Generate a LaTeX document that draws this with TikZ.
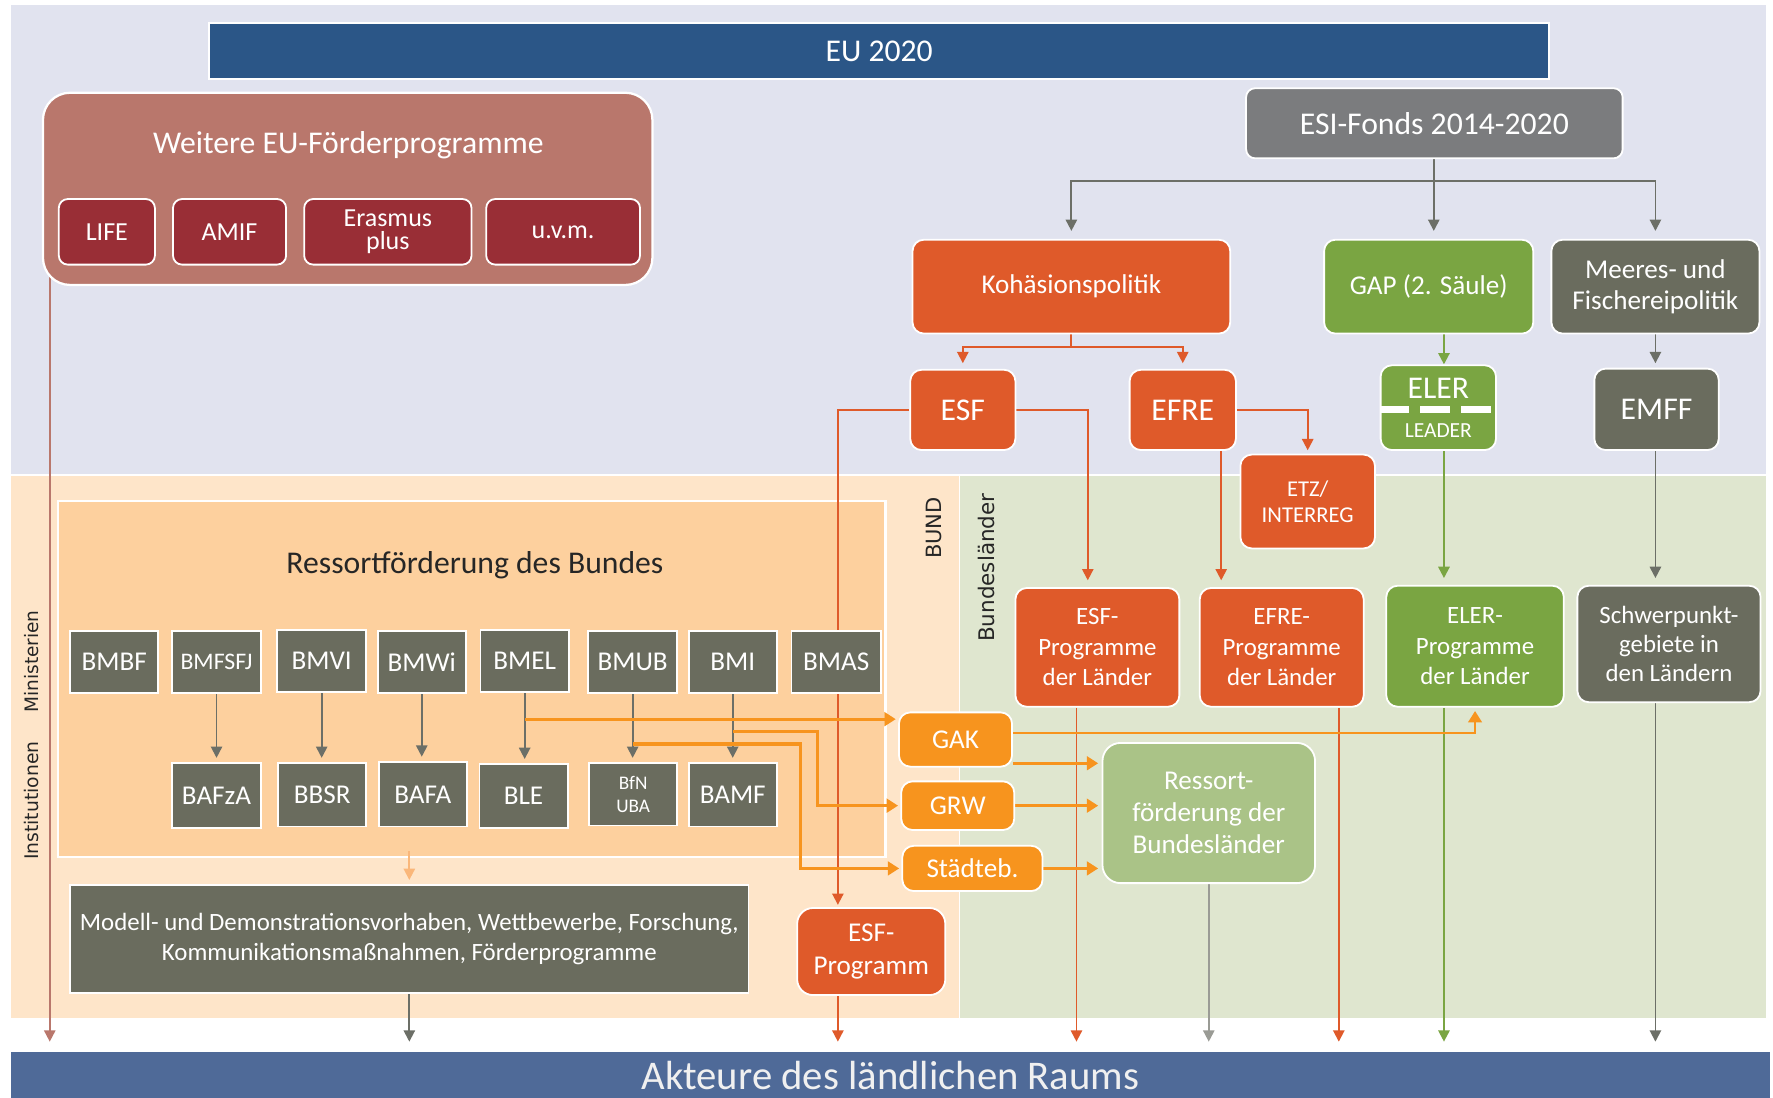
\documentclass[tikz,border=0pt]{standalone}
\usepackage{fontspec}
\setmainfont{Carlito}
\newfontfamily\dejavu{DejaVu Sans}
\usetikzlibrary{arrows.meta,fit}
\pgfdeclarelayer{bg}
\pgfdeclarelayer{lines}
\pgfsetlayers{bg,lines,main}
\definecolor{lav}{HTML}{E1E3EF}
\definecolor{peachA}{HTML}{FEE5C9}
\definecolor{peachB}{HTML}{FDD09E}
\definecolor{lgreen}{HTML}{DFE6CF}
\definecolor{eublue}{HTML}{2B5687}
\definecolor{barblue}{HTML}{4F6A98}
\definecolor{wbox}{HTML}{B9776C}
\definecolor{wred}{HTML}{992E36}
\definecolor{esigray}{HTML}{7B7C7E}
\definecolor{arrgray}{HTML}{6C6F67}
\definecolor{korange}{HTML}{DF5A2A}
\definecolor{ggreen}{HTML}{7AA542}
\definecolor{dgray}{HTML}{6A6C5E}
\definecolor{lorange}{HTML}{F7941E}
\definecolor{lorangeB}{HTML}{FAB77A}
\definecolor{lgbox}{HTML}{AAC387}
\definecolor{txtdark}{HTML}{262626}
\definecolor{midgray}{HTML}{9A9B95}
\begin{document}
\begin{tikzpicture}[x=0.5pt,y=-0.5pt,
  bb/.style n args={4}{minimum width={(#3-#1)*0.5pt}, minimum height={(#4-#2)*0.5pt}, at={({(#1+#3)/2},{(#2+#4)/2})}},
  box/.style={draw=white, line width=0.8pt, inner sep=0pt, text=white, align=center},
  rbox/.style={box, rounded corners=5pt},
  region/.style={draw=none, inner sep=0pt},
  ar/.style={-{Triangle[length=5pt,width=5pt]}},
  arB/.style={-{Triangle[length=5pt,width=6pt]}},
  gline/.style={draw=arrgray, line width=0.8pt},
  oline/.style={draw=korange, line width=0.8pt},
  grline/.style={draw=ggreen, line width=0.9pt},
  loline/.style={draw=lorange, line width=1.4pt},
  fsA/.style={font=\fontsize{14}{16}\selectfont},
  fsB/.style={font=\fontsize{12}{14.2}\selectfont},
  fsC/.style={font=\fontsize{11}{13.5}\selectfont},
]
\useasboundingbox (0,0) rectangle (1568,971);
\begin{pgfonlayer}{bg}
\fill[white] (0,0) rectangle (1568,971);
\node[region, fill=lav, fit={(10,4)(1562,419)}] (top) {};
\node[region, fill=peachA, fit={(10,421)(848,900)}] (bundreg) {};
\node[region, fill=lgreen, fit={(849,421)(1562,900)}] (landreg) {};
\node[region, fill=peachB, draw=white, line width=1pt, fit={(51,443)(783,758)}] (ress) {};
\end{pgfonlayer}

% top bar
\node[box, fill=eublue, bb={185}{20}{1370}{70}, fsA] (eu) {EU 2020};
% Weitere
\node[box, fill=wbox, rounded corners=12pt, line width=1pt, bb={38}{82}{577}{252}] (weitere) {};
\node[text=white, fsA] (wtitle) at (308,128) {Weitere EU-Förderprogramme};
\node[rbox, fill=wred, rounded corners=4pt, bb={52}{176}{137}{234}, font=\fontsize{11.5}{10}\selectfont] (life) {LIFE};
\node[rbox, fill=wred, rounded corners=4pt, bb={153}{176}{253}{234}, font=\fontsize{11.5}{10}\selectfont] (amif) {AMIF};
\node[rbox, fill=wred, rounded corners=4pt, bb={269}{176}{417}{234}, font=\fontsize{11.5}{10}\selectfont] (erasmus) {Erasmus\\plus};
\node[rbox, fill=wred, rounded corners=4pt, bb={430}{176}{566}{234}, font=\fontsize{11.5}{10}\selectfont] (uvm) {u.v.m.};
% ESI
\node[rbox, fill=esigray, rounded corners=4pt, bb={1102}{78}{1435}{140}, fsA] (esi) {ESI-Fonds 2014-2020};
\node[rbox, fill=korange, bb={807}{212}{1088}{295}, fsB] (koh) {Kohäsionspolitik};
\node[rbox, fill=ggreen, bb={1171}{212}{1356}{295}, fsB] (gap) {GAP (2. Säule)};
\node[rbox, fill=dgray, bb={1372}{212}{1556}{295}, font=\fontsize{12}{14}\selectfont] (meer) {Meeres- und\\Fischereipolitik};
\node[rbox, fill=korange, bb={805}{327}{898}{398}, fsA] (esf) {ESF};
\node[rbox, fill=korange, bb={999}{327}{1093}{398}, fsA] (efre) {EFRE};
\node[rbox, fill=ggreen, bb={1221}{323}{1323}{398}] (eler) {};
\node[text=white, fsA] (elertxt) at (1272,343) {ELER};
\node[text=white, font=\fontsize{9.5}{11}\selectfont] (leadtxt) at (1272,381) {LEADER};
\coordinate (ydash) at (0,362);
\draw[white, line width=3pt, dash pattern=on 13pt off 5pt] (eler.west |- ydash) -- (eler.east |- ydash);
\node[rbox, fill=dgray, bb={1410}{326}{1520}{398}, fsA] (emff) {EMFF};
\node[rbox, fill=korange, bb={1097}{402}{1216}{485}, font=\fontsize{10}{11.5}\selectfont] (etz) {ETZ/\\INTERREG};
% Laender
\node[rbox, fill=korange, bb={898}{520}{1043}{625}, fsC] (esfl) {ESF-\\Programme\\der Länder};
\node[rbox, fill=korange, bb={1061}{520}{1206}{625}, fsC] (efrel) {EFRE-\\Programme\\der Länder};
\node[rbox, fill=ggreen, bb={1226}{518}{1383}{625}, fsC] (elerl) {ELER-\\Programme\\der Länder};
\node[rbox, fill=dgray, bb={1395}{518}{1557}{621}, font=\fontsize{11}{13}\selectfont] (schw) {Schwerpunkt-\\gebiete in\\den Ländern};
\node[rbox, fill=lorange, bb={795}{630}{895}{678}, fsB] (gak) {GAK};
\node[rbox, fill=lorange, bb={797}{691}{897}{734}, fsB] (grw) {GRW};
\node[rbox, fill=lorange, bb={798}{748}{922}{788}, fsB] (stb) {Städteb.};
\node[rbox, fill=lgbox, rounded corners=8pt, bb={975}{657}{1163}{781}, font=\fontsize{12}{14.2}\selectfont] (rbl) {Ressort-\\förderung der\\Bundesländer};
\node[rbox, fill=korange, rounded corners=7pt, bb={705}{803}{836}{880}, font=\fontsize{12}{14.5}\selectfont] (esfp) {ESF-\\Programm};
% Bund
\node[text=txtdark, fsA] (rtitle) at (420,500) {Ressortförderung des Bundes};
\node[box, fill=dgray, bb={62}{783}{662}{878}, font=\fontsize{11}{13.5}\selectfont] (modell) {Modell- und Demonstrationsvorhaben, Wettbewerbe, Forschung,\\Kommunikationsmaßnahmen, Förderprogramme};
\node[box, fill=dgray, bb={62}{558}{140}{613}, fsB] (bmbf) {BMBF};
\node[box, fill=dgray, bb={152}{558}{231}{613}, font=\fontsize{10.5}{12}\selectfont] (bmfsfj) {BMFSFJ};
\node[box, fill=dgray, bb={245}{557}{324}{612}, fsB] (bmvi) {BMVI};
\node[box, fill=dgray, bb={334}{558}{412}{613}, fsB] (bmwi) {BMWi};
\node[box, fill=dgray, bb={425}{557}{503}{612}, fsB] (bmel) {BMEL};
\node[box, fill=dgray, bb={520}{558}{599}{613}, fsB] (bmub) {BMUB};
\node[box, fill=dgray, bb={609}{558}{687}{613}, fsB] (bmi) {BMI};
\node[box, fill=dgray, bb={700}{558}{779}{613}, fsB] (bmas) {BMAS};
\node[box, fill=dgray, bb={152}{675}{231}{732}, fsB] (bafza) {BAFzA};
\node[box, fill=dgray, bb={246}{675}{324}{731}, fsB] (bbsr) {BBSR};
\node[box, fill=dgray, bb={335}{674}{413}{731}, fsB] (bafa) {BAFA};
\node[box, fill=dgray, bb={424}{676}{502}{732}, fsB] (ble) {BLE};
\node[box, fill=dgray, bb={521}{675}{599}{730}, font=\fontsize{8.5}{10}\selectfont] (bfn) {BfN\\UBA};
\node[box, fill=dgray, bb={609}{675}{687}{731}, fsB] (bamf) {BAMF};
% side labels
\node[rotate=90, text=txtdark, font=\dejavu\fontsize{9.3}{11}\selectfont] (bundlbl) at (826,467) {BUND};
\node[rotate=90, text=txtdark, font=\dejavu\fontsize{9.5}{11}\selectfont] (laenderlbl) at (872,502) {Bundesländer};
\node[rotate=90, text=txtdark, font=\dejavu\fontsize{8.2}{10}\selectfont] (minlbl) at (28,585) {Ministerien};
\node[rotate=90, text=txtdark, font=\dejavu\fontsize{8.3}{10}\selectfont] (instlbl) at (28,708) {Institutionen};
% bottom bar
\node[box, draw=none, fill=barblue, bb={10}{930}{1565}{973}, font=\fontsize{18}{20}\selectfont, text=white!94!black] (bar) {Akteure des ländlichen Raums};

\begin{pgfonlayer}{lines}
\coordinate (j1) at (1268,160);
\coordinate (j2) at (947.5,307);
\coordinate (xg) at (1277,0);
\coordinate (xe) at (741,0);
\coordinate (xf) at (962,0);
\coordinate (xf2) at (952,0);
\coordinate (xr) at (1080,0);
\coordinate (xr2) at (1184,0);
\coordinate (xw) at (44,0);
\coordinate (yg1) at (0,648);
\coordinate (yg2) at (0,675);
\coordinate (yo1) at (0,636);
\coordinate (yo2) at (0,647);
\coordinate (yo3) at (0,658);
\coordinate (xo2) at (723,0);
\coordinate (xo3) at (708,0);
% ESI
\draw[gline] (esi.south -| j1) -- (j1);
\draw[gline, ar, shorten >=3.5pt] (j1) -| (koh.north);
\draw[gline, ar, shorten >=3.5pt] (j1) -- (j1 |- gap.north);
\draw[gline, ar, shorten >=3.5pt] (j1) -| (meer.north);
% Kohaesion
\draw[oline] (koh.south) -- (j2);
\draw[oline, ar, shorten >=2.5pt] (j2) -| (esf.north);
\draw[oline, ar, shorten >=2.5pt] (j2) -| (efre.north);
% GAP
\draw[grline, ar] (xg |- gap.south) -- (xg |- eler.north);
\draw[grline, ar, shorten >=3pt] (xg |- eler.south) -- (xg |- elerl.north);
\draw[grline, ar, shorten >=4pt] (xg |- elerl.south) -- (xg |- bar.north);
% Meer
\draw[gline, ar, shorten >=2pt] (meer.south) -- (meer.south |- emff.north);
\draw[gline, ar, shorten >=3pt] (meer.south |- emff.south) -- (meer.south |- schw.north);
\draw[gline, ar, shorten >=4pt] (meer.south |- schw.south) -- (meer.south |- bar.north);
% ESF
\draw[oline, ar, shorten >=1pt] (esf.west) -| (xe |- esfp.north);
\draw[oline, ar, shorten >=4pt] (xe |- esfp.south) -- (xe |- bar.north);
\draw[oline, ar, shorten >=3pt] (esf.east) -| (xf |- esfl.north);
\draw[oline, ar, shorten >=4pt] (xf2 |- esfl.south) -- (xf2 |- bar.north);
% EFRE
\draw[oline, ar, shorten >=3pt] (xr |- efre.south) -- (xr |- efrel.north);
\draw[oline, ar, shorten >=4pt] (xr2 |- efrel.south) -- (xr2 |- bar.north);
\draw[oline, ar, shorten >=1.5pt] (efre.east) -| (etz.north);
% Ressort Laender
\draw[draw=midgray, line width=0.8pt, ar, shorten >=4pt] (rbl.south) -- (rbl.south |- bar.north);
% GAK GRW Staedteb
\draw[draw=lorange, line width=1pt, arB, shorten >=1.5pt] (gak.east |- yg1) -| (elerl.south);
\draw[loline, arB, shorten >=1.5pt] (gak.east |- yg2) -- (rbl.west |- yg2);
\draw[loline, arB, shorten >=1.5pt] (grw.east) -- (rbl.west |- grw.east);
\draw[loline, arB, shorten >=1.5pt] (stb.east) -- (rbl.west |- stb.east);
% Ministries -> Institutions
\draw[gline, ar, shorten >=2pt] (bmfsfj.south) -- (bmfsfj.south |- bafza.north);
\draw[gline, ar, shorten >=2pt] (bmvi.south) -- (bmvi.south |- bbsr.north);
\draw[gline, ar, shorten >=2pt] (bmwi.south) -- (bmwi.south |- bafa.north);
\draw[gline, ar, shorten >=2pt] (bmel.south) -- (bmel.south |- ble.north);
\draw[gline, ar, shorten >=2pt] (bmub.south) -- (bmub.south |- bfn.north);
\draw[gline, ar, shorten >=2pt] (bmi.south) -- (bmi.south |- bamf.north);
% orange from ministries
\draw[loline, arB, shorten >=1pt] (bmel.south |- yo1) -- (gak.west |- yo1);
\draw[loline, arB, shorten >=1pt] (bmi.south |- yo2) -- (xo2 |- yo2) -- (xo2 |- grw.west) -- (grw.west);
\draw[loline, arB, shorten >=1pt] (bmub.south |- yo3) -- (xo3 |- yo3) -- (xo3 |- stb.west) -- (stb.west);
% small arrow Ressort -> Modell
\draw[draw=lorangeB, line width=0.8pt, ar, shorten >=2pt] ([yshift=3pt]ress.south -| modell.north) -- (modell.north);
\draw[gline, ar, shorten >=4pt] (modell.south) -- (modell.south |- bar.north);
% Weitere
\draw[draw=wbox, line width=0.8pt, ar, shorten >=4pt] ([yshift=4pt]xw |- weitere.south) -- (xw |- bar.north);
\end{pgfonlayer}
\end{tikzpicture}
\end{document}
